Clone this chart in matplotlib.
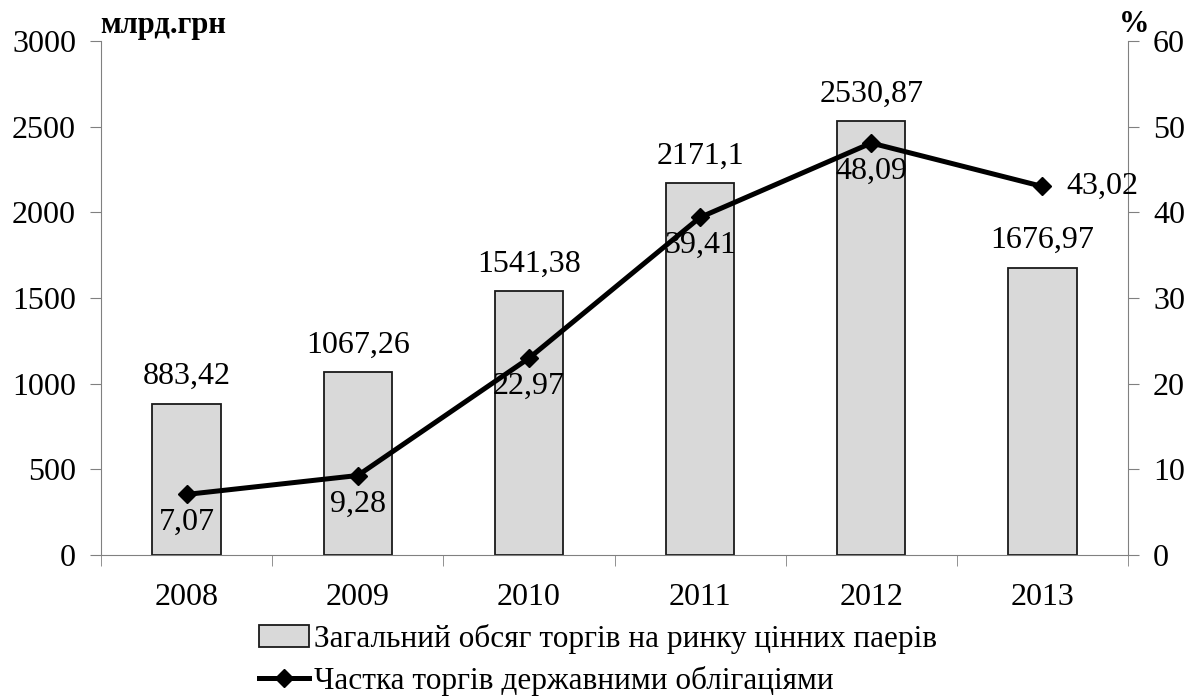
import matplotlib
matplotlib.use("Agg")
import matplotlib.pyplot as plt
from matplotlib.lines import Line2D
from matplotlib.patches import Patch

years = ["2008", "2009", "2010", "2011", "2012", "2013"]
volume = [883.42, 1067.26, 1541.38, 2171.1, 2530.87, 1676.97]
volume_labels = ["883,42", "1067,26", "1541,38", "2171,1", "2530,87", "1676,97"]
share = [7.07, 9.28, 22.97, 39.41, 48.09, 43.02]
share_labels = ["7,07", "9,28", "22,97", "39,41", "48,09", "43,02"]
legend_labels = ["Загальний обсяг торгів на ринку цінних паерів",
                 "Частка торгів державними облігаціями"]

plt.rcParams['font.family'] = ['Liberation Serif', 'DejaVu Serif']
FS = 23

fig = plt.figure(figsize=(11.96, 6.98), dpi=100)
ax = fig.add_axes([101/1196, 1-555/698, (1128-101)/1196, (555-41)/698])
ax2 = ax.twinx()

x = list(range(len(years)))
ax.bar(x, volume, width=0.4, color='#d9d9d9', edgecolor='#1a1a1a', linewidth=1.3, zorder=2)
ax.set_xlim(-0.5, len(years)-0.5)
ax.set_ylim(0, 3000)
ax.set_yticks(range(0, 3001, 500))
ax.set_xticks(x)
ax.set_xticklabels(years, fontsize=FS)
ax.set_xticks([i+0.5 for i in range(-1, len(years))], minor=True)
ax.tick_params(axis='x', which='major', length=0, pad=20)
ax.tick_params(axis='x', which='minor', length=8, color='#808080', direction='out')
ax.tick_params(axis='y', labelsize=FS, length=8, color='#808080', direction='out', pad=10)
for s in ['top', 'right']:
    ax.spines[s].set_visible(False)
for s in ['left', 'bottom']:
    ax.spines[s].set_color('#808080')

for xi, v, lab in zip(x, volume, volume_labels):
    ax.annotate(lab, (xi, v), xytext=(0, 9), textcoords='offset points',
                ha='center', va='bottom', fontsize=FS)

ax2.plot(x, share, color='black', linewidth=3.6, marker='D', markersize=9, zorder=3)
ax2.set_ylim(0, 60)
ax2.set_yticks(range(0, 61, 10))
ax2.tick_params(axis='y', labelsize=FS, length=8, color='#808080', direction='out', pad=10)
for s in ['top', 'left', 'bottom']:
    ax2.spines[s].set_visible(False)
ax2.spines['right'].set_color('#808080')

for i, (xi, v, lab) in enumerate(zip(x, share, share_labels)):
    if i == len(x) - 1:
        ax2.annotate(lab, (xi, v), xytext=(17, 0), textcoords='offset points',
                     ha='left', va='center', fontsize=FS)
    else:
        ax2.annotate(lab, (xi, v), xytext=(0, -10), textcoords='offset points',
                     ha='center', va='top', fontsize=FS)

fig.text(100/1196, 1-25/698, "млрд.грн", fontsize=FS-1, fontweight='bold', ha='left', va='center')
fig.text(1134/1196, 1-25/698, "%", fontsize=FS-1, fontweight='bold', ha='center', va='center')

handles = [Patch(facecolor='#d9d9d9', edgecolor='#1a1a1a', linewidth=1.3),
           Line2D([0], [0], color='black', linewidth=3.6, marker='D', markersize=9)]
fig.legend(handles, legend_labels, loc='center', bbox_to_anchor=(598/1196, 1-660/698),
           frameon=False, fontsize=FS-0.5, handlelength=1.6, handletextpad=0.15,
           labelspacing=0.4, borderaxespad=0)

fig.savefig("out.png", dpi=100)
